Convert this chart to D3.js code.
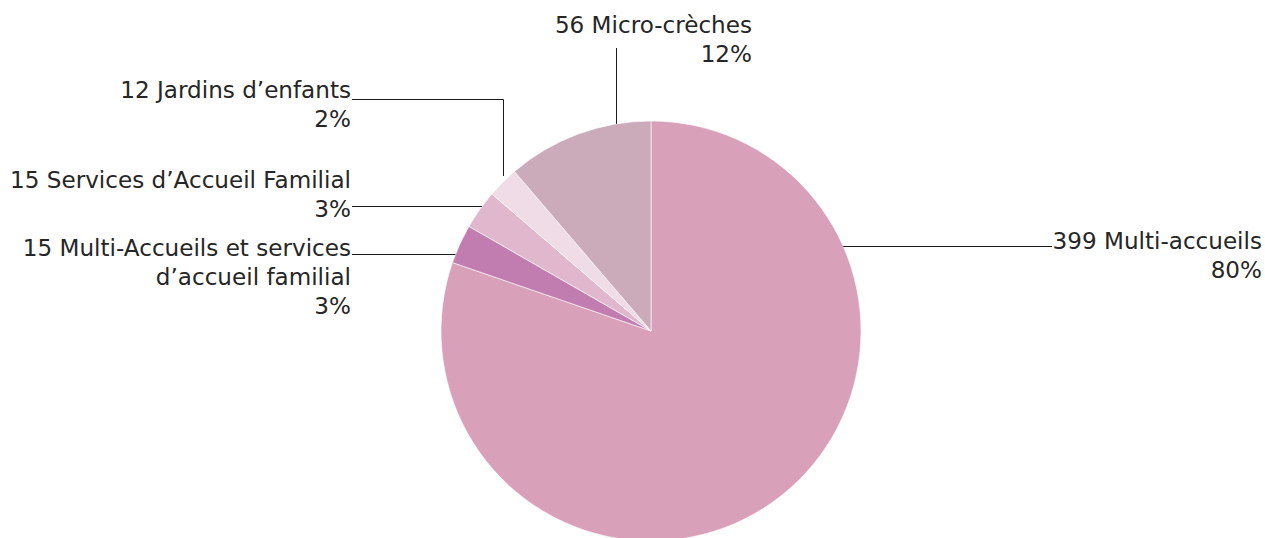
<!DOCTYPE html>
<html><head><meta charset="utf-8">
<script src="https://cdn.jsdelivr.net/npm/d3@7"></script>
<style>html,body{margin:0;padding:0;background:#fff;overflow:hidden}</style>
</head><body>
<svg id="chart" width="1265" height="538"></svg>
<script>
// ---- data ----
const categories = ["Multi-accueils", "Multi-Accueils et services d’accueil familial", "Services d’Accueil Familial", "Jardins d’enfants", "Micro-crèches"];
const counts = [399, 15, 15, 12, 56];
const percentLabels = ["80%", "3%", "3%", "2%", "12%"];
const labelLines = [
  ["399 Multi-accueils"],
  ["15 Multi-Accueils et services", "d’accueil familial"],
  ["15 Services d’Accueil Familial"],
  ["12 Jardins d’enfants"],
  ["56 Micro-crèches"]
];
const colors = ["#D9A0BA", "#C27DB0", "#E0B7CC", "#F0DCE7", "#CBABBA"];

// ---- layout ----
const W = 1265, H = 538;
const cx = 651, cy = 331, R = 210;
const lineH = 29;
const fontSize = 23.1;
// label layout: text right edge x, first baseline y, leader geometry
const labelLayout = [
  {x: 1262, y: 249, leader: {type: "h", y: 246.5, side: "right", x2: 1052}},
  {x: 351, y: 256, leader: {type: "h", y: 254.5, side: "left", x2: 352}},
  {x: 351, y: 188, leader: {type: "h", y: 206.5, side: "left", x2: 352}},
  {x: 351, y: 98, leader: {type: "hv", y: 99.5, x: 503.5, x2: 352, yEnd: 176}},
  {x: 752, y: 33, leader: {type: "v", x: 616.5, y1: 48}}
];

const svg = d3.select("#chart");
const g = svg.append("g").attr("transform", `translate(${cx},${cy})`);

const pie = d3.pie().sort(null).value(d => d)(counts);
const arc = d3.arc().innerRadius(0).outerRadius(R);

g.selectAll("path.slice").data(pie).join("path")
  .attr("class", "slice")
  .attr("d", arc)
  .attr("fill", (d, i) => colors[i])
  .attr("stroke", "#ffffff")
  .attr("stroke-width", 0.6);

// leaders
const leaders = svg.append("g").attr("stroke", "#1a1a1a").attr("stroke-width", 1).attr("fill", "none");
labelLayout.forEach((L, i) => {
  const ld = L.leader;
  let pts;
  if (ld.type === "h") {
    const dy = ld.y - cy;
    const dx = Math.sqrt(R * R - dy * dy);
    const xe = ld.side === "right" ? cx + dx : cx - dx;
    pts = [[xe, ld.y], [ld.x2, ld.y]];
  } else if (ld.type === "hv") {
    pts = [[ld.x2, ld.y], [ld.x, ld.y], [ld.x, ld.yEnd]];
  } else {
    const dx = ld.x - cx;
    const ye = cy - Math.sqrt(R * R - dx * dx);
    pts = [[ld.x, ld.y1], [ld.x, ye]];
  }
  leaders.append("path").attr("d", d3.line()(pts));
});

// labels
const labels = svg.append("g")
  .attr("font-family", "'DejaVu Sans', sans-serif")
  .attr("font-size", fontSize)
  .attr("fill", "#262626")
  .attr("text-anchor", "end");
labelLayout.forEach((L, i) => {
  const lines = labelLines[i].concat([percentLabels[i]]);
  const t = labels.append("text").attr("x", L.x).attr("y", L.y);
  lines.forEach((s, k) => {
    t.append("tspan").attr("x", L.x).attr("y", L.y + k * lineH).text(s);
  });
});
</script>
</body></html>
